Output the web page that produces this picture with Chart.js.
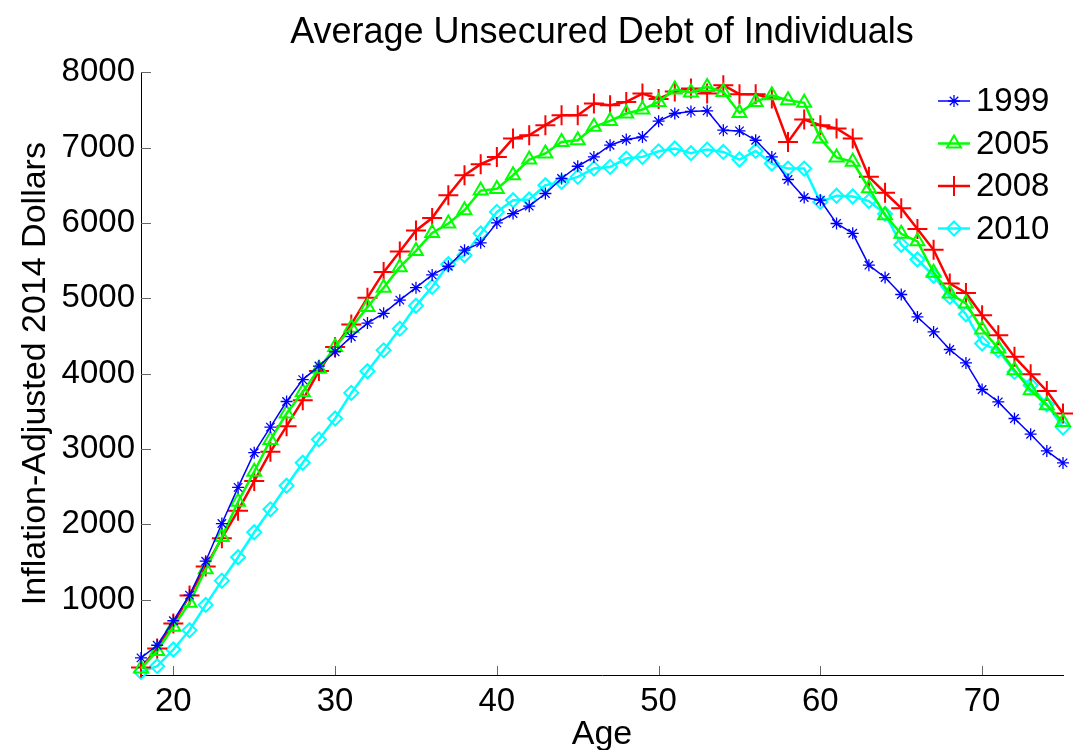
<!DOCTYPE html>
<html>
<head>
<meta charset="utf-8">
<script src="https://cdn.jsdelivr.net/npm/chart.js@4.4.0/dist/chart.umd.min.js"></script>
<style>
  html, body { margin: 0; padding: 0; background: #fff; }
  #wrap { width: 1075px; height: 750px; }
</style>
</head>
<body>
<div id="wrap"><canvas id="debtChart" width="1075" height="750"></canvas></div>
<script>
// ages on the x axis
const ages = [18, 19, 20, 21, 22, 23, 24, 25, 26, 27, 28, 29, 30, 31, 32, 33, 34, 35, 36, 37,
  38, 39, 40, 41, 42, 43, 44, 45, 46, 47, 48, 49, 50, 51, 52, 53, 54, 55, 56, 57,
  58, 59, 60, 61, 62, 63, 64, 65, 66, 67, 68, 69, 70, 71, 72, 73, 74, 75];

// average unsecured debt, inflation-adjusted 2014 dollars
const debt1999 = [227, 395, 720, 1060, 1510, 2010, 2490, 2950, 3290, 3630, 3920, 4100, 4290, 4490, 4670, 4800, 4975, 5140, 5310, 5425,
  5638, 5735, 6000, 6124, 6222, 6390, 6589, 6752, 6876, 7031, 7106, 7141, 7350, 7452, 7480, 7487, 7231, 7221, 7097, 6876,
  6576, 6337, 6301, 5992, 5862, 5439, 5275, 5050, 4752, 4553, 4320, 4142, 3789, 3625, 3404, 3196, 2974, 2815];
const debt2005 = [85, 320, 640, 960, 1404, 1830, 2300, 2698, 3120, 3470, 3757, 4066, 4353, 4609, 4883, 5139, 5413, 5628, 5867, 5992,
  6168, 6429, 6451, 6633, 6841, 6921, 7075, 7097, 7275, 7354, 7452, 7505, 7606, 7770, 7730, 7805, 7738, 7460, 7606, 7694,
  7628, 7593, 7120, 6868, 6810, 6460, 6102, 5855, 5755, 5340, 5063, 4930, 4585, 4333, 4045, 3779, 3580, 3359];
const debt2008 = [99, 351, 683, 1055, 1439, 1815, 2181, 2574, 2962, 3302, 3647, 4035, 4353, 4653, 5007, 5347, 5620, 5900, 6065, 6368,
  6633, 6779, 6876, 7120, 7164, 7297, 7430, 7430, 7584, 7562, 7606, 7717, 7645, 7745, 7784, 7717, 7827, 7708, 7708, 7650,
  7075, 7372, 7297, 7253, 7120, 6611, 6400, 6195, 5918, 5643, 5196, 5071, 4775, 4510, 4222, 3992, 3770, 3471];
const debt2010 = [41, 117, 338, 594, 930, 1252, 1563, 1894, 2199, 2512, 2817, 3126, 3404, 3744, 4031, 4309, 4596, 4900, 5151, 5452,
  5571, 5859, 6146, 6301, 6311, 6500, 6544, 6611, 6721, 6743, 6854, 6876, 6950, 6987, 6925, 6973, 6942, 6841, 6955, 6788,
  6721, 6721, 6279, 6360, 6350, 6290, 6120, 5710, 5514, 5298, 5018, 4788, 4399, 4310, 4022, 3845, 3592, 3284];

const seriesNames = ["1999", "2005", "2008", "2010"];
const xTicks = [20, 30, 40, 50, 60, 70];
const yTicks = [1000, 2000, 3000, 4000, 5000, 6000, 7000, 8000];

const FONT = "'Liberation Sans', Arial, Helvetica, sans-serif";

function toPoints(values) {
  return values.map((v, i) => ({ x: ages[i], y: v }));
}

// matlab style ticks pointing into the plot
const inwardTicks = {
  id: "inwardTicks",
  beforeDatasetsDraw(chart) {
    const { ctx, chartArea, scales } = chart;
    ctx.save();
    ctx.strokeStyle = "#666";
    ctx.lineWidth = 1;
    scales.x.ticks.forEach(t => {
      const px = Math.round(scales.x.getPixelForValue(t.value)) + 0.5;
      ctx.beginPath();
      ctx.moveTo(px, chartArea.bottom);
      ctx.lineTo(px, chartArea.bottom - 9);
      ctx.stroke();
    });
    scales.y.ticks.forEach(t => {
      const py = Math.round(scales.y.getPixelForValue(t.value)) + 0.5;
      ctx.beginPath();
      ctx.moveTo(chartArea.left, py);
      ctx.lineTo(chartArea.left + 10, py);
      ctx.stroke();
    });
    ctx.restore();
  }
};

// legend with a line segment and hollow marker, like matlab draws it
const lineLegend = {
  id: "lineLegend",
  afterDraw(chart) {
    const { ctx, chartArea } = chart;
    const x0 = chartArea.right - 125;
    ctx.save();
    chart.data.datasets.forEach((ds, i) => {
      const y = 101 + i * 42.5;
      ctx.strokeStyle = ds.borderColor;
      ctx.lineWidth = ds.borderWidth;
      ctx.beginPath();
      ctx.moveTo(x0, y);
      ctx.lineTo(x0 + 32, y);
      ctx.stroke();
      ctx.fillStyle = "rgba(0,0,0,0)";
      ctx.lineWidth = ds.pointBorderWidth;
      Chart.helpers.drawPoint(ctx, {
        pointStyle: ds.pointStyle,
        radius: ds.pointRadius,
        borderWidth: ds.pointBorderWidth
      }, x0 + 16, y);
      ctx.fillStyle = "#000";
      ctx.font = "33px " + FONT;
      ctx.textBaseline = "middle";
      ctx.textAlign = "left";
      ctx.fillText(ds.label, x0 + 38, y + 1);
    });
    ctx.restore();
  }
};

function makeSet(label, values, color, style, radius, lineW, markW) {
  return {
    label: label,
    data: toPoints(values),
    borderColor: color,
    backgroundColor: "rgba(0,0,0,0)",
    pointBorderColor: color,
    pointBackgroundColor: "rgba(0,0,0,0)",
    borderWidth: lineW,
    pointBorderWidth: markW,
    pointStyle: style,
    pointRadius: radius,
    pointHoverRadius: radius,
    tension: 0,
    clip: false
  };
}

const ctx = document.getElementById("debtChart").getContext("2d");
const chart = new Chart(ctx, {
  type: "line",
  data: {
    datasets: [
      makeSet(seriesNames[0], debt1999, "#0000ff", "star", 6, 1.5, 1.3),
      makeSet(seriesNames[1], debt2005, "#00ff00", "triangle", 8, 2.5, 2),
      makeSet(seriesNames[2], debt2008, "#ff0000", "cross", 10, 2.5, 2),
      makeSet(seriesNames[3], debt2010, "#00ffff", "rectRot", 7, 2.5, 2)
    ]
  },
  options: {
    responsive: false,
    animation: false,
    events: [],
    layout: { padding: { left: 0, right: 5, top: 0, bottom: 0 } },
    plugins: {
      legend: { display: false },
      tooltip: { enabled: false },
      title: {
        display: true,
        text: "Average Unsecured Debt of Individuals",
        fullSize: false,
        color: "#000",
        font: { family: FONT, size: 36, weight: "normal" },
        padding: { top: 11, bottom: 18 }
      }
    },
    scales: {
      x: {
        type: "linear",
        min: 18,
        max: 75,
        afterBuildTicks: scale => { scale.ticks = xTicks.map(v => ({ value: v })); },
        afterFit: scale => { scale.height = 75; },
        grid: { display: true, drawOnChartArea: false, drawTicks: false },
        border: { display: true, color: "#000", width: 1 },
        ticks: { color: "#000", padding: 7, font: { family: FONT, size: 33 } },
        title: {
          display: true,
          text: "Age",
          color: "#000",
          font: { family: FONT, size: 34 },
          padding: { top: 0, bottom: -5 }
        }
      },
      y: {
        type: "linear",
        min: 0,
        max: 8000,
        afterBuildTicks: scale => { scale.ticks = yTicks.map(v => ({ value: v })); },
        afterFit: scale => { scale.width = 141; },
        grid: { display: true, drawOnChartArea: false, drawTicks: false },
        border: { display: true, color: "#000", width: 1 },
        ticks: {
          color: "#000",
          padding: 6,
          font: { family: FONT, size: 33 },
          callback: v => String(v)
        },
        title: {
          display: true,
          text: "Inflation-Adjusted 2014 Dollars",
          color: "#000",
          font: { family: FONT, size: 34 },
          padding: { top: 15, bottom: 0 }
        }
      }
    }
  },
  plugins: [inwardTicks, lineLegend]
});
</script>
</body>
</html>
